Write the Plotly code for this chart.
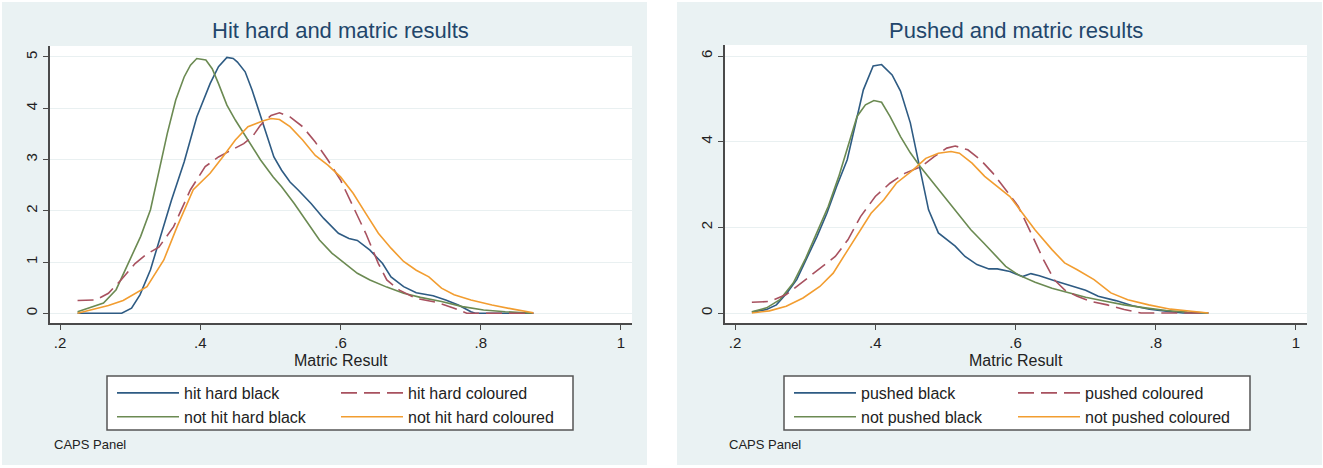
import plotly.graph_objects as go

W, H = 1323, 468

# ---------------- data: kernel density of matric result ----------------
# Panel 1: hit hard
hit_black_x = [0.225, 0.24, 0.26, 0.288, 0.302, 0.314, 0.329, 0.344, 0.359, 0.377, 0.395, 0.414,
               0.426, 0.438, 0.447, 0.453, 0.464, 0.474, 0.486, 0.498, 0.505, 0.516, 0.528, 0.540,
               0.558, 0.576, 0.597, 0.612, 0.624, 0.642, 0.660, 0.672, 0.690, 0.708, 0.732, 0.750,
               0.768, 0.786, 0.792, 0.83, 0.875]
hit_black_y = [0, 0, 0, 0, 0.10, 0.36, 0.85, 1.53, 2.21, 2.95, 3.83, 4.48,
               4.81, 4.99, 4.97, 4.90, 4.71, 4.35, 3.83, 3.31, 3.05, 2.79, 2.56, 2.40,
               2.14, 1.85, 1.56, 1.46, 1.42, 1.23, 0.97, 0.71, 0.52, 0.40, 0.34, 0.26,
               0.16, 0.03, 0, 0, 0]

nothit_black_x = [0.225, 0.262, 0.28, 0.30, 0.315, 0.329, 0.343, 0.353, 0.365, 0.377, 0.386, 0.395,
                  0.408, 0.417, 0.426, 0.438, 0.450, 0.468, 0.486, 0.504, 0.516, 0.534, 0.552, 0.570,
                  0.588, 0.606, 0.624, 0.642, 0.666, 0.690, 0.714, 0.744, 0.774, 0.804, 0.835, 0.875]
nothit_black_y = [0.03, 0.20, 0.46, 1.04, 1.50, 2.02, 2.90, 3.51, 4.16, 4.61, 4.84, 4.97,
                  4.94, 4.77, 4.48, 4.06, 3.77, 3.38, 2.99, 2.66, 2.47, 2.14, 1.79, 1.43,
                  1.17, 0.97, 0.78, 0.65, 0.51, 0.39, 0.31, 0.23, 0.13, 0.065, 0.03, 0]

hit_col_x = [0.225, 0.251, 0.269, 0.287, 0.307, 0.323, 0.341, 0.362, 0.386, 0.407, 0.426, 0.444,
             0.462, 0.474, 0.486, 0.501, 0.513, 0.528, 0.546, 0.564, 0.582, 0.600, 0.618, 0.636,
             0.654, 0.666, 0.684, 0.708, 0.738, 0.762, 0.780, 0.83, 0.875]
hit_col_y = [0.25, 0.26, 0.39, 0.65, 0.97, 1.15, 1.29, 1.69, 2.41, 2.86, 3.05, 3.18,
             3.31, 3.44, 3.67, 3.86, 3.91, 3.83, 3.64, 3.34, 2.99, 2.60, 2.08, 1.56,
             0.97, 0.65, 0.45, 0.29, 0.21, 0.10, 0, 0, 0]

nothit_col_x = [0.225, 0.245, 0.269, 0.290, 0.310, 0.324, 0.348, 0.367, 0.390, 0.414, 0.432, 0.450,
                0.468, 0.477, 0.489, 0.501, 0.513, 0.528, 0.546, 0.564, 0.582, 0.600, 0.618, 0.636,
                0.654, 0.672, 0.690, 0.708, 0.726, 0.744, 0.762, 0.786, 0.816, 0.846, 0.875]
nothit_col_y = [0, 0.07, 0.15, 0.25, 0.40, 0.52, 1.04, 1.69, 2.41, 2.73, 3.05, 3.38,
                3.64, 3.69, 3.75, 3.80, 3.78, 3.64, 3.38, 3.08, 2.89, 2.66, 2.34, 1.95,
                1.56, 1.27, 1.01, 0.84, 0.71, 0.49, 0.36, 0.26, 0.16, 0.08, 0.01]

# Panel 2: pushed
push_black_x = [0.224, 0.245, 0.259, 0.274, 0.288, 0.302, 0.317, 0.331, 0.345, 0.360, 0.371, 0.383,
                0.397, 0.409, 0.424, 0.436, 0.450, 0.464, 0.476, 0.490, 0.502, 0.514, 0.528, 0.545,
                0.562, 0.574, 0.592, 0.610, 0.622, 0.634, 0.658, 0.682, 0.700, 0.718, 0.743, 0.767,
                0.791, 0.815, 0.839, 0.875]
push_black_y = [0.02, 0.08, 0.19, 0.47, 0.78, 1.25, 1.79, 2.33, 2.96, 3.58, 4.36, 5.21,
                5.77, 5.80, 5.56, 5.18, 4.44, 3.35, 2.41, 1.87, 1.71, 1.56, 1.32, 1.13,
                1.03, 1.03, 0.97, 0.85, 0.92, 0.87, 0.74, 0.62, 0.53, 0.39, 0.29, 0.17,
                0.09, 0.04, 0, 0]

nopush_black_x = [0.224, 0.245, 0.264, 0.283, 0.300, 0.317, 0.333, 0.348, 0.362, 0.374, 0.386, 0.398,
                  0.409, 0.421, 0.436, 0.450, 0.464, 0.479, 0.498, 0.517, 0.536, 0.555, 0.568, 0.586,
                  0.604, 0.628, 0.652, 0.676, 0.700, 0.730, 0.755, 0.785, 0.815, 0.845, 0.875]
nopush_black_y = [0.03, 0.12, 0.31, 0.70, 1.25, 1.87, 2.49, 3.19, 3.97, 4.59, 4.86, 4.96,
                  4.92, 4.59, 4.12, 3.74, 3.42, 3.11, 2.72, 2.33, 1.95, 1.63, 1.40, 1.09,
                  0.89, 0.72, 0.58, 0.47, 0.37, 0.27, 0.19, 0.12, 0.06, 0.02, 0]

push_col_x = [0.224, 0.250, 0.273, 0.297, 0.321, 0.343, 0.361, 0.379, 0.400, 0.421, 0.442, 0.466,
              0.484, 0.502, 0.514, 0.532, 0.550, 0.568, 0.586, 0.604, 0.622, 0.640, 0.655, 0.670,
              0.688, 0.707, 0.731, 0.755, 0.779, 0.83, 0.875]
push_col_y = [0.25, 0.27, 0.43, 0.74, 1.05, 1.32, 1.71, 2.25, 2.72, 3.03, 3.26, 3.42,
              3.65, 3.85, 3.90, 3.81, 3.58, 3.26, 2.88, 2.49, 1.87, 1.24, 0.78, 0.54,
              0.39, 0.27, 0.19, 0.08, 0, 0, 0]

nopush_col_x = [0.224, 0.249, 0.273, 0.297, 0.321, 0.340, 0.358, 0.376, 0.394, 0.412, 0.430, 0.454,
                0.472, 0.490, 0.508, 0.520, 0.538, 0.556, 0.574, 0.592, 0.610, 0.628, 0.652, 0.670,
                0.688, 0.712, 0.736, 0.760, 0.790, 0.821, 0.851, 0.875]
nopush_col_y = [0, 0.05, 0.16, 0.35, 0.62, 0.93, 1.40, 1.87, 2.33, 2.64, 3.03, 3.34,
                3.61, 3.73, 3.77, 3.73, 3.50, 3.19, 2.95, 2.72, 2.33, 1.94, 1.48, 1.17,
                1.01, 0.78, 0.47, 0.31, 0.19, 0.09, 0.04, 0]

panel_titles = ["Hit hard and matric results", "Pushed and matric results"]
legend_names = [["hit hard black", "not hit hard black", "hit hard coloured", "not hit hard coloured"],
                ["pushed black", "not pushed black", "pushed coloured", "not pushed coloured"]]
x_ticks = [0.2, 0.4, 0.6, 0.8, 1.0]
x_tick_text = [".2", ".4", ".6", ".8", "1"]
y_ticks = [[0, 1, 2, 3, 4, 5], [0, 2, 4, 6]]
y_ranges = [[-0.19, 5.214], [-0.233, 6.257]]
x_range = [0.1857, 1.0157]
note_text = "CAPS Panel"
x_title = "Matric Result"

# ---------------- styling ----------------
NAVY = "#2e5b83"
MAROON = "#a8515f"
GREEN = "#6b8a52"
ORANGE = "#f29d30"
PANEL_BG = "#EAF2F3"
GRID = "#E9F0F1"
AXIS = "#4a4a4a"
TEXT = "#222222"
FONT = "Liberation Sans, Arial, Helvetica, sans-serif"
DASH = "16px,7px"

# pixel layout (margins are zero, so paper coords = pixels / size)
panels = [
    dict(bg=(2, 647), plot=(50, 632), top=46, legend_box=(107, 573)),
    dict(bg=(677, 1322), plot=(725, 1307), top=45, legend_box=(784, 1250)),
]
PLOT_BOTTOM = 323
BG_TOP, BG_BOTTOM = 2, 465
LEG_TOP, LEG_BOTTOM = 376, 430
LEG_COL_OFFSETS = [5, 229]


def px(x):
    return x / W


def py(y):
    return 1 - y / H


fig = go.Figure()

series = [
    [(hit_black_x, hit_black_y, NAVY, "solid"),
     (nothit_black_x, nothit_black_y, GREEN, "solid"),
     (hit_col_x, hit_col_y, MAROON, DASH),
     (nothit_col_x, nothit_col_y, ORANGE, "solid")],
    [(push_black_x, push_black_y, NAVY, "solid"),
     (nopush_black_x, nopush_black_y, GREEN, "solid"),
     (push_col_x, push_col_y, MAROON, DASH),
     (nopush_col_x, nopush_col_y, ORANGE, "solid")],
]

legend_ids = [["legend", "legend", "legend2", "legend2"],
              ["legend3", "legend3", "legend4", "legend4"]]

for p in range(2):
    xa = "x" if p == 0 else "x2"
    ya = "y" if p == 0 else "y2"
    for s, (xs, ys, col, dash) in enumerate(series[p]):
        fig.add_trace(go.Scatter(
            x=xs, y=ys, mode="lines", name=legend_names[p][s],
            line=dict(color=col, width=1.6, dash=dash),
            xaxis=xa, yaxis=ya, legend=legend_ids[p][s],
        ))

shapes = []
annotations = []
layout_axes = {}
legends = {}

for p, pn in enumerate(panels):
    # outer panel region and white plot region
    shapes.append(dict(type="rect", xref="paper", yref="paper",
                       x0=px(pn["bg"][0]), x1=px(pn["bg"][1]), y0=py(BG_BOTTOM), y1=py(BG_TOP),
                       fillcolor=PANEL_BG, line=dict(width=0), layer="below"))
    shapes.append(dict(type="rect", xref="paper", yref="paper",
                       x0=px(pn["plot"][0]), x1=px(pn["plot"][1]), y0=py(PLOT_BOTTOM), y1=py(pn["top"]),
                       fillcolor="white", line=dict(width=0), layer="below"))
    # legend frame
    shapes.append(dict(type="rect", xref="paper", yref="paper",
                       x0=px(pn["legend_box"][0]), x1=px(pn["legend_box"][1]),
                       y0=py(LEG_BOTTOM), y1=py(LEG_TOP),
                       fillcolor="white", line=dict(width=1.5, color="#555555"), layer="below"))

    cx = (pn["plot"][0] + pn["plot"][1]) / 2
    annotations.append(dict(text=panel_titles[p], xref="paper", yref="paper",
                            x=px(cx), y=py(31), xanchor="center", yanchor="middle",
                            showarrow=False, font=dict(size=22, color="#22466b", family=FONT)))
    annotations.append(dict(text=x_title, xref="paper", yref="paper",
                            x=px(cx), y=py(360), xanchor="center", yanchor="middle",
                            showarrow=False, font=dict(size=16, color=TEXT, family=FONT)))
    annotations.append(dict(text=note_text, xref="paper", yref="paper",
                            x=px(pn["plot"][0] + 2), y=py(444), xanchor="left", yanchor="middle",
                            showarrow=False, font=dict(size=13, color=TEXT, family=FONT)))

    sx = "" if p == 0 else "2"
    layout_axes["xaxis" + sx] = dict(
        domain=[px(pn["plot"][0]), px(pn["plot"][1])], range=x_range,
        anchor="y" + sx, tickvals=x_ticks, ticktext=x_tick_text,
        ticks="outside", ticklen=5, tickwidth=1.3, tickcolor=AXIS,
        showline=True, linecolor=AXIS, linewidth=1.5,
        showgrid=False, zeroline=False, fixedrange=True,
        tickfont=dict(size=15, color=TEXT, family=FONT),
    )
    layout_axes["yaxis" + sx] = dict(
        domain=[py(PLOT_BOTTOM), py(pn["top"])], range=y_ranges[p],
        anchor="x" + sx, tickvals=y_ticks[p], tickangle=-90,
        ticks="outside", ticklen=5, tickwidth=1.3, tickcolor=AXIS,
        showline=True, linecolor=AXIS, linewidth=1.5,
        showgrid=True, gridcolor=GRID, gridwidth=1.2, zeroline=False, fixedrange=True,
        tickfont=dict(size=15, color=TEXT, family=FONT),
    )

    box_l = pn["legend_box"][0]
    for c, lid in enumerate(legend_ids[p][::2]):
        legends[lid] = dict(
            x=px(box_l + LEG_COL_OFFSETS[c]), y=py(LEG_TOP), xanchor="left", yanchor="top",
            orientation="v", bgcolor="rgba(0,0,0,0)", borderwidth=0,
            itemwidth=62, tracegroupgap=0,
            font=dict(size=16, color=TEXT, family=FONT),
        )

fig.update_layout(
    width=W, height=H, margin=dict(l=0, r=0, t=0, b=0),
    paper_bgcolor="white", plot_bgcolor="white",
    shapes=shapes, annotations=annotations,
    **layout_axes, **legends,
)

fig.write_html("out.html")
